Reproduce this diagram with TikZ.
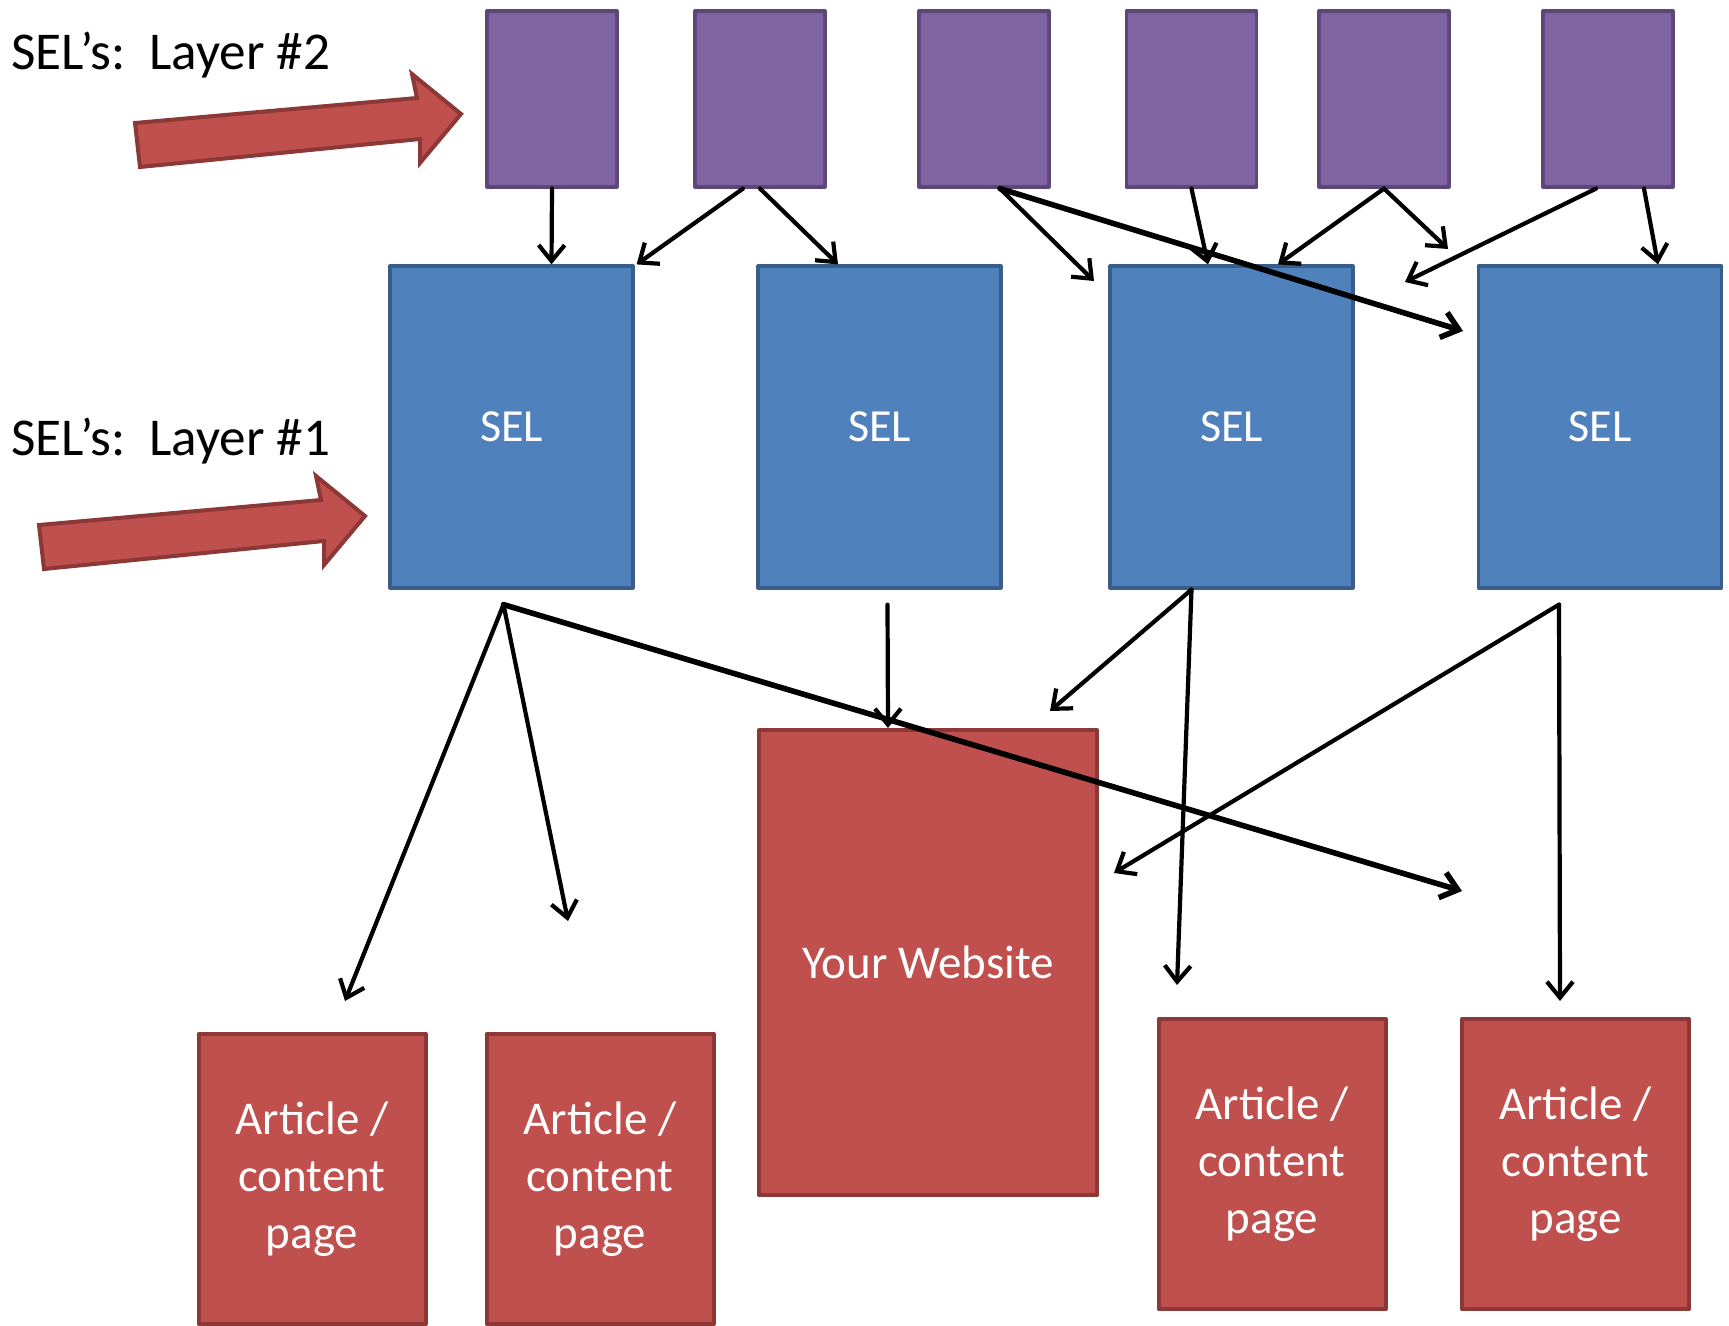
\documentclass[tikz,border=0pt]{standalone}
\usepackage{fontspec}
\setmainfont{Carlito}
\usetikzlibrary{arrows.meta}
\definecolor{selpurple}{HTML}{8064A2}
\definecolor{selpurpledark}{HTML}{5C4776}
\definecolor{selblue}{HTML}{4F81BD}
\definecolor{selbluedark}{HTML}{385D8A}
\definecolor{pagered}{HTML}{C0504D}
\definecolor{pagereddark}{HTML}{8C3836}
\begin{document}
\begin{tikzpicture}[x=0.5pt, y=-0.5pt, line join=round, line cap=round,
		>={Straight Barb[length=8pt,width=13pt]},
		sel2/.style={draw=selpurpledark, fill=selpurple, line width=1.6pt, minimum width=65pt, minimum height=88pt, inner sep=0pt},
		sel1/.style={draw=selbluedark, fill=selblue, line width=1.6pt, minimum width=121.5pt, minimum height=161pt, text=white, font=\fontsize{23}{28}\selectfont},
		pagebox/.style={draw=pagereddark, fill=pagered, line width=2pt, text=white, align=center, font=\fontsize{23.5}{28.5}\selectfont},
		article/.style={pagebox, minimum width=113.5pt, minimum height=145pt},
		link/.style={->, line width=2.1pt},
		longlink/.style={->, line width=2.8pt},
		bigarrow/.style={draw=pagereddark, fill=pagered, line width=2pt, line cap=butt, line join=miter},
		layer/.style={anchor=base west, inner sep=0pt, font=\fontsize{26.6}{32}\selectfont}]
	\useasboundingbox (0,0) rectangle (1729,1326);
	% labels and big arrows
	\node[layer] (lab2) at (11,70) {SEL's:\ \ Layer \#2};
	\node[layer] (lab1) at (11,455) {SEL's:\ \ Layer \#1};
	\foreach \dx/\dy in {0/0,-96/402}
		\draw[bigarrow, shift={(\dx,\dy)}] (135,123)--(417,98)--(412,74)--(461,114)--(420,163)--(420,139)--(140,167)--cycle;
	% layer 2
	\foreach \i/\x in {1/552,2/760,3/984,4/1191.5,5/1384,6/1608}
		\node[sel2] (p\i) at (\x,99) {};
	% layer 1
	\node[sel1] (b1) at (511.5,427) {SEL};
	\node[sel1] (b2) at (879.5,427) {SEL};
	\node[sel1] (b3) at (1231.5,427) {SEL};
	\node[sel1] (b4) at (1600,427) {SEL};
	% pages
	\node[pagebox, minimum width=169pt, minimum height=232.5pt] (web) at (928,962.5) {Your Website};
	\node[article] (a1) at (312,1179) {Article /\\content\\page};
	\node[article] (a2) at (600,1179) {Article /\\content\\page};
	\node[article] (a3) at (1272,1164) {Article /\\content\\page};
	\node[article] (a4) at (1575.5,1164) {Article /\\content\\page};
	% free arrow ends
	\coordinate (t4) at (1094,281);
	\coordinate (t5) at (1463,331);
	\coordinate (t8) at (1448,249);
	\coordinate (t9) at (1405,282);
	\coordinate (u11) at (345,1001);
	\coordinate (u12) at (568,921);
	\coordinate (u13) at (1462,891);
	\coordinate (u15) at (1050,711);
	\coordinate (u16) at (1177,985);
	\coordinate (u17) at (1114,873);
	\coordinate (u18) at (1560,1001);
	% layer 2 -> layer 1
	\draw[link] (p1.south) -- ([xshift=20pt]b1.north);
	\draw[link] ([xshift=-8.5pt]p2.south) -- ([xshift=1pt]b1.north east);
	\draw[link] (p2.south) -- ([xshift=-20.75pt]b2.north);
	\draw[link] ([xshift=8pt]p3.south) -- (t4);
	\draw[longlink] ([xshift=8pt]p3.south) -- (t5);
	\draw[link] (p4.south) -- ([xshift=-11.75pt]b3.north);
	\draw[link] (p5.south) -- ([xshift=23.25pt]b3.north);
	\draw[link] (p5.south) -- (t8);
	\draw[link] ([xshift=-6pt]p6.south) -- (t9);
	\draw[link] ([xshift=18pt]p6.south) -- ([xshift=29pt]b4.north);
	% layer 1 -> pages
	\draw[link] ([xshift=-4pt,yshift=-7.5pt]b1.south) -- (u11);
	\draw[link] ([xshift=-4pt,yshift=-7.5pt]b1.south) -- (u12);
	\draw[longlink] ([xshift=-4pt,yshift=-7.5pt]b1.south) -- (u13);
	\draw[link] ([xshift=4pt,yshift=-7.5pt]b2.south) -- ([xshift=-20pt]web.north);
	\draw[link] ([xshift=-20pt]b3.south) -- (u15);
	\draw[link] ([xshift=-20pt]b3.south) -- (u16);
	\draw[link] ([xshift=-20.5pt,yshift=-7.5pt]b4.south) -- (u17);
	\draw[link] ([xshift=-20.5pt,yshift=-7.5pt]b4.south) -- (u18);
\end{tikzpicture}
\end{document}
